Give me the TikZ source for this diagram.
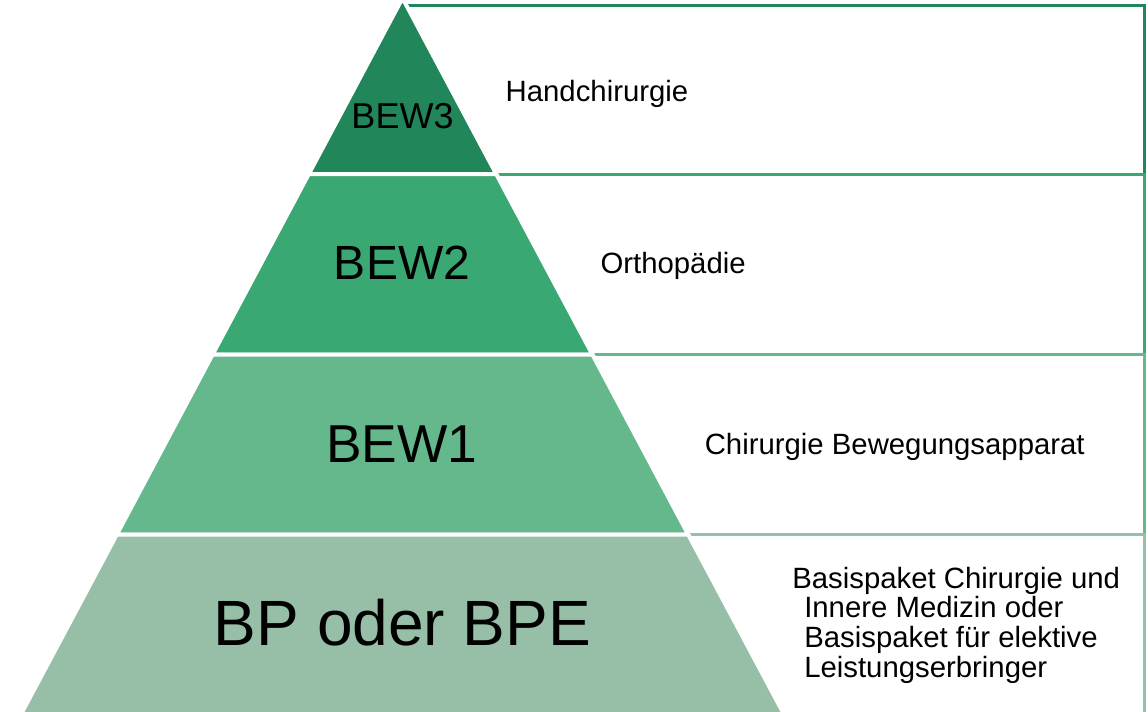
\documentclass[tikz,border=0pt]{standalone}
\usepackage{fontspec}
\setmainfont{Liberation Sans}
\definecolor{cthree}{HTML}{21865A}
\definecolor{ctwo}{HTML}{3AA872}
\definecolor{cone}{HTML}{64B88C}
\definecolor{czero}{HTML}{97BFA7}
\begin{document}
\begin{tikzpicture}[x=0.75pt,y=-0.75pt,
  band/.style={line width=3pt,draw=white,line join=miter},
  boxline/.style={line width=2.25pt,line join=miter},
  tier/.style={inner sep=0pt,anchor=base},
  desc/.style={inner sep=0pt,anchor=base west,font=\fontsize{22}{26}\selectfont}]
\useasboundingbox (0,0) rectangle (1148,711);
\clip (0,0) rectangle (1148,711);
% pyramid geometry
\coordinate (A) at (402.5,-1.9);
\coordinate (L1) at (308.8,174);   \coordinate (R1) at (496.2,174);
\coordinate (L2) at (212.6,354.5); \coordinate (R2) at (592.4,354.5);
\coordinate (L3) at (116.8,534.5); \coordinate (R3) at (688.2,534.5);
\coordinate (L4) at (20.6,715);    \coordinate (R4) at (784.4,715);
% frames behind the pyramid
\draw[boxline,draw=cthree] (402.5,5) -- (1144,5) -- (1144,174) -- (402.5,174);
\draw[boxline,draw=ctwo] (402.5,174) -- (1144,174) -- (1144,354.3) -- (402.5,354.3);
\draw[boxline,draw=cone] (402.5,354.3) -- (1144,354.3) -- (1144,534) -- (402.5,534);
\draw[boxline,draw=czero] (402.5,534) -- (1144,534) -- (1144,720);
% pyramid bands
\filldraw[band,fill=cthree] (A) -- (R1) -- (L1) -- cycle;
\filldraw[band,fill=ctwo] (L1) -- (R1) -- (R2) -- (L2) -- cycle;
\filldraw[band,fill=cone] (L2) -- (R2) -- (R3) -- (L3) -- cycle;
\filldraw[band,fill=czero] (L3) -- (R3) -- (R4) -- (L4) -- cycle;
% tier labels
\node[tier,font=\fontsize{27}{32}\selectfont] (bew3) at (402.5,128.3) {BEW3};
\node[tier,font=\fontsize{36}{42}\selectfont] (bew2) at (402,279) {BEW2};
\node[tier,font=\fontsize{40}{46}\selectfont] (bew1) at (401.7,462) {BEW1};
\node[tier,font=\fontsize{48}{56}\selectfont] (bp) at (402.5,645) {BP oder BPE};
% descriptions
\node[desc] (d3) at (505.4,101.7) {Handchirurgie};
\node[desc] (d2) at (600.3,273.3) {Orthopädie};
\node[desc] (d1) at (704.5,454) {Chirurgie Bewegungsapparat};
\node[desc] (d0a) at (792,588) {Basispaket Chirurgie und};
\node[desc] (d0b) at (804,617.7) {Innere Medizin oder};
\node[desc] (d0c) at (804,647.4) {Basispaket für elektive};
\node[desc] (d0d) at (804,677) {Leistungserbringer};
\end{tikzpicture}
\end{document}
